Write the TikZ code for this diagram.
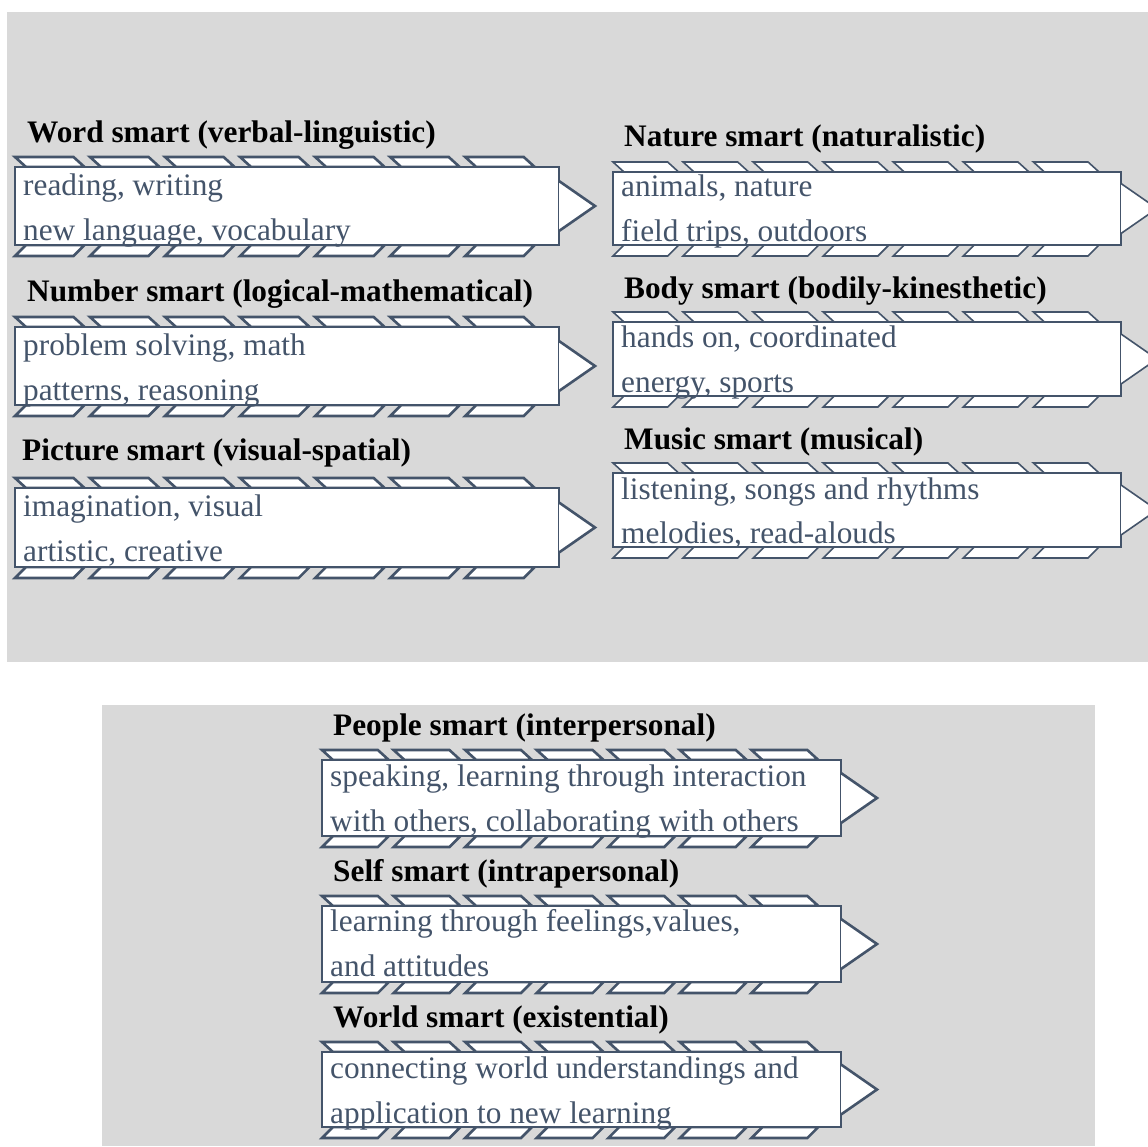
\documentclass[tikz,border=0pt]{standalone}
\usepackage{fontspec}
\setmainfont{Liberation Serif}
\usetikzlibrary{calc}
\definecolor{slate}{HTML}{44546A}
\definecolor{panelgray}{HTML}{D9D9D9}
\tikzset{
  panel/.style={fill=panelgray},
  mline/.style={draw=slate, line width=2.6pt, line join=miter},
  thinline/.style={draw=slate, line width=1.6pt, line join=miter},
  mbox/.style={rectangle, fill=white, inner sep=0pt, outer sep=0pt},
  txt/.style={inner sep=0pt, text=slate, font=\fontsize{31.3}{36}\selectfont},
  ttl/.style={inner sep=0pt, text=black, font=\fontsize{31.3}{36}\selectfont\bfseries},
}
\newcommand\mystripes[5]{% x0, x1, top, bottom, style
  \pgfmathsetmacro\stsp{(#2-#1)/7.25}
  \pgfmathsetmacro\stw{0.78*\stsp}
  \foreach \i in {0,...,6}{
    \pgfmathsetmacro\xa{#1+\i*\stsp}
    \draw[#5, fill=white] (\xa,#3-10) -- ++(\stw,0) -- ++(11,10) -- ++(-\stw,0) -- cycle;
    \draw[#5, fill=white] (\xa+11,#4) -- ++(\stw,0) -- ++(-11,11) -- ++(-\stw,0) -- cycle;
  }}
\newcommand\myarrow[2]{% node, style
  \draw[#2, fill=white] ($(#1.east)+(0,-25)$) -- ($(#1.east)+(36,0)$) -- ($(#1.east)+(0,25)$);}
\begin{document}
\begin{tikzpicture}[x=1pt,y=-1pt]
\useasboundingbox (0,0) rectangle (1148,1146);
\clip (0,0) rectangle (1148,1146);
\fill[panel] (7,12) rectangle (1148,662);
\fill[panel] (102,705) rectangle (1095,1146);

% ---------- left column ----------
\mystripes{15}{559}{167}{245}{mline}
\node[mbox, mline, minimum width=544, minimum height=78, anchor=north west] (word) at (15,167) {};
\myarrow{word}{mline}
\node[ttl, anchor=base west] (wordt) at (27,142) {Word smart (verbal-linguistic)};
\node[txt, anchor=base west] (word1) at (23,195) {reading, writing};
\node[txt, anchor=base west] (word2) at (23,240) {new language, vocabulary};

\mystripes{15}{559}{327}{405}{mline}
\node[mbox, mline, minimum width=544, minimum height=78, anchor=north west] (num) at (15,327) {};
\myarrow{num}{mline}
\node[ttl, anchor=base west] (numt) at (27,301) {Number smart (logical-mathematical)};
\node[txt, anchor=base west] (num1) at (23,355) {problem solving, math};
\node[txt, anchor=base west] (num2) at (23,400) {patterns, reasoning};

\mystripes{15}{559}{488}{567}{mline}
\node[mbox, mline, minimum width=544, minimum height=79, anchor=north west] (pic) at (15,488) {};
\myarrow{pic}{mline}
\node[ttl, anchor=base west] (pict) at (22,460) {Picture smart (visual-spatial)};
\node[txt, anchor=base west] (pic1) at (23,516) {imagination, visual};
\node[txt, anchor=base west] (pic2) at (23,561) {artistic, creative};

% ---------- right column ----------
\mystripes{613}{1121}{172}{245}{thinline}
\node[mbox, thinline, minimum width=508, minimum height=73, anchor=north west] (nat) at (613,172) {};
\myarrow{nat}{thinline}
\node[ttl, anchor=base west] (natt) at (624,146) {Nature smart (naturalistic)};
\node[txt, anchor=base west] (nat1) at (621,196) {animals, nature};
\node[txt, anchor=base west] (nat2) at (621,241) {field trips, outdoors};

\mystripes{613}{1121}{322}{396}{thinline}
\node[mbox, thinline, minimum width=508, minimum height=74, anchor=north west] (body) at (613,322) {};
\myarrow{body}{thinline}
\node[ttl, anchor=base west] (bodyt) at (624,298) {Body smart (bodily-kinesthetic)};
\node[txt, anchor=base west] (body1) at (621,347) {hands on, coordinated};
\node[txt, anchor=base west] (body2) at (621,392) {energy, sports};

\mystripes{613}{1121}{473}{547}{thinline}
\node[mbox, thinline, minimum width=508, minimum height=74, anchor=north west] (mus) at (613,473) {};
\myarrow{mus}{thinline}
\node[ttl, anchor=base west] (must) at (624,449) {Music smart (musical)};
\node[txt, anchor=base west] (mus1) at (621,499) {listening, songs and rhythms};
\node[txt, anchor=base west] (mus2) at (621,543) {melodies, read-alouds};

% ---------- bottom ----------
\mystripes{322}{841}{760}{836}{mline}
\node[mbox, mline, minimum width=519, minimum height=76, anchor=north west] (peo) at (322,760) {};
\myarrow{peo}{mline}
\node[ttl, anchor=base west] (peot) at (333,735) {People smart (interpersonal)};
\node[txt, anchor=base west] (peo1) at (330,786) {speaking, learning through interaction};
\node[txt, anchor=base west] (peo2) at (330,831) {with others, collaborating with others};

\mystripes{322}{841}{906}{982}{mline}
\node[mbox, mline, minimum width=519, minimum height=76, anchor=north west] (self) at (322,906) {};
\myarrow{self}{mline}
\node[ttl, anchor=base west] (selft) at (333,881) {Self smart (intrapersonal)};
\node[txt, anchor=base west] (self1) at (330,931) {learning through feelings,values,};
\node[txt, anchor=base west] (self2) at (330,976) {and attitudes};

\mystripes{322}{841}{1052}{1127}{mline}
\node[mbox, mline, minimum width=519, minimum height=75, anchor=north west] (wor) at (322,1052) {};
\myarrow{wor}{mline}
\node[ttl, anchor=base west] (wort) at (333,1027) {World smart (existential)};
\node[txt, anchor=base west] (wor1) at (330,1078) {connecting world understandings and};
\node[txt, anchor=base west] (wor2) at (330,1123) {application to new learning};
\end{tikzpicture}
\end{document}
